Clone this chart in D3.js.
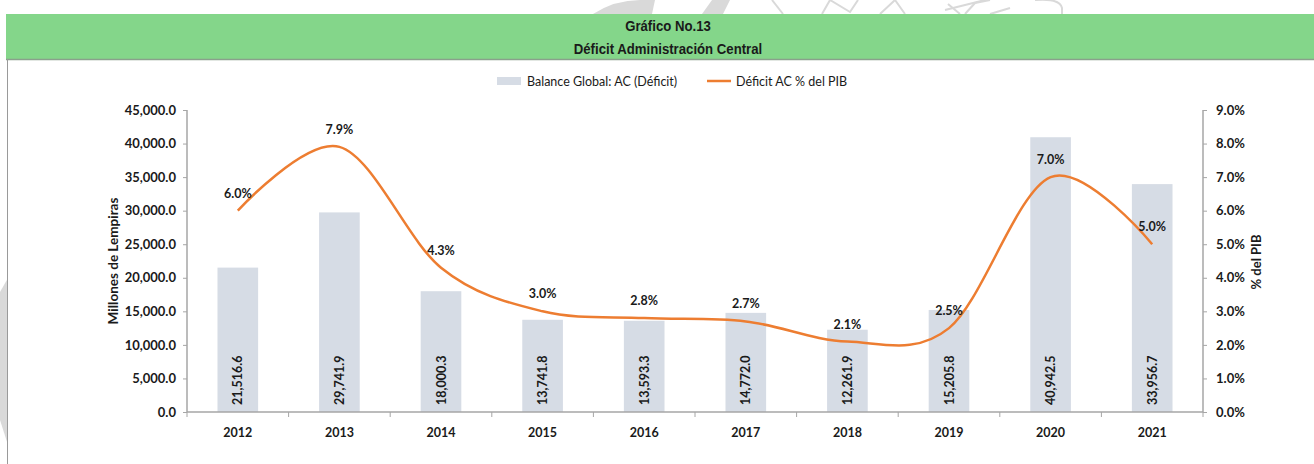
<!DOCTYPE html>
<html>
<head>
<meta charset="utf-8">
<script src="https://cdn.jsdelivr.net/npm/d3@7"></script>
<style>
  body { margin: 0; background: #fff; }
  svg text { font-family: Lato, "Open Sans", sans-serif; fill: #1a1a1a; }
  .narrow { font-family: "Liberation Sans Narrow", "Arial Narrow", "Liberation Sans", sans-serif !important; }
</style>
</head>
<body>
<svg id="chart" width="1314" height="464"></svg>
<script>
// data
var years = ["2012", "2013", "2014", "2015", "2016", "2017", "2018", "2019", "2020", "2021"];
var balance = [21516.6, 29741.9, 18000.3, 13741.8, 13593.3, 14772.0, 12261.9, 15205.8, 40942.5, 33956.7];
var deficitPIB = [0.060, 0.079, 0.043, 0.030, 0.028, 0.027, 0.021, 0.025, 0.070, 0.050];
var leftTicks = [0, 5000, 10000, 15000, 20000, 25000, 30000, 35000, 40000, 45000];
var rightTicks = [0, 0.01, 0.02, 0.03, 0.04, 0.05, 0.06, 0.07, 0.08, 0.09];

var svg = d3.select("#chart");

// watermark shapes (light gray)
var wm = svg.append("g").attr("fill", "#d9d9d9");
wm.append("path").attr("d", "M593,14 Q615,0 640,0 L655,0 L652,14 Z");
wm.append("path").attr("d", "M702,14 L712,0 L730,0 L723,14 Z");
wm.append("path").attr("d", "M0,292 L8,278 L8,445 L0,420 Z");
var wmLine = svg.append("g").attr("fill", "none").attr("stroke", "#d9d9d9").attr("stroke-width", 2);
wmLine.append("path").attr("d", "M772,0 L783,14");
wmLine.append("path").attr("d", "M822,14 L830,0 L850,12 L858,0");
wmLine.append("path").attr("d", "M880,14 L895,0 L905,14");
wmLine.append("path").attr("d", "M945,10 L985,0 M948,4 L960,14 M990,14 L1010,8");
wmLine.append("path").attr("d", "M965,14 L975,3 L990,0");
wmLine.append("path").attr("d", "M1035,0 Q1060,-2 1062,8 L1062,14");

// header band
svg.append("rect").attr("x", 6).attr("y", 14).attr("width", 1308).attr("height", 45)
  .attr("fill", "#84d68a");
svg.append("line").attr("x1", 6).attr("x2", 1314).attr("y1", 59.5).attr("y2", 59.5)
  .attr("stroke", "#8aa08c").attr("stroke-width", 1.5);
svg.append("line").attr("x1", 7.5).attr("x2", 7.5).attr("y1", 59).attr("y2", 464)
  .attr("stroke", "#9a9a9a").attr("stroke-width", 1);

svg.append("text").attr("class", "narrow")
  .attr("transform", "translate(668,31) scale(0.88,1)")
  .attr("text-anchor", "middle").style("font-size", "15px").style("font-weight", "bold")
  .text("Gráfico No.13");
svg.append("text").attr("class", "narrow")
  .attr("transform", "translate(668,54) scale(0.88,1)")
  .attr("text-anchor", "middle").style("font-size", "15px").style("font-weight", "bold")
  .text("Déficit Administración Central");

// scales
var x = d3.scaleBand().domain(years).range([187, 1203]).padding(0);
var yL = d3.scaleLinear().domain([0, 45000]).range([412, 110]);
var yR = d3.scaleLinear().domain([0, 0.09]).range([412, 110]);

var barW = x.bandwidth() * 0.4;

// bars
svg.append("g").selectAll("rect")
  .data(balance)
  .enter()
  .append("rect")
  .attr("x", function(d, i) { return x(years[i]) + (x.bandwidth() - barW) / 2; })
  .attr("y", function(d) { return yL(d); })
  .attr("width", barW)
  .attr("height", function(d) { return yL(0) - yL(d); })
  .attr("fill", "#d6dce5");

// bar labels
svg.append("g").selectAll("text")
  .data(balance)
  .enter()
  .append("text")
  .attr("transform", function(d, i) {
    return "translate(" + (x(years[i]) + x.bandwidth() / 2 + 4.5) + ",405) rotate(-90)";
  })
  .style("font-size", "12.5px").style("font-weight", "bold")
  .text(function(d) { return d3.format(",.1f")(d); });

// axes
var axisColor = "#a6a6a6";
var gL = svg.append("g").attr("transform", "translate(187,0)")
  .call(d3.axisLeft(yL).tickValues(leftTicks).tickSize(4).tickPadding(7).tickFormat(d3.format(",.1f")));
var gR = svg.append("g").attr("transform", "translate(1203,0)")
  .call(d3.axisRight(yR).tickValues(rightTicks).tickSize(4).tickPadding(9).tickFormat(d3.format(".1%")));
var gX = svg.append("g").attr("transform", "translate(0,412)")
  .call(d3.axisBottom(x).tickSize(0).tickPadding(16));

[gL, gR, gX].forEach(function(g) {
  g.selectAll("path.domain").attr("stroke", axisColor).attr("stroke-width", 1.5);
  g.selectAll("line").attr("stroke", axisColor);
  g.selectAll("text").style("font-size", "13px").style("font-weight", "bold")
    .style("font-family", "Lato, sans-serif").attr("fill", "#1a1a1a");
});
gX.selectAll("text").style("font-size", "12.5px");
gL.select("path.domain").attr("d", "M0,412V110");
gR.select("path.domain").attr("d", "M0,412V110");
gX.select("path.domain").attr("d", "M187,0H1203");

// x tick marks on band boundaries
svg.append("g").selectAll("line")
  .data(years.concat(["end"]))
  .enter()
  .append("line")
  .attr("x1", function(d, i) { return 187 + i * x.bandwidth(); })
  .attr("x2", function(d, i) { return 187 + i * x.bandwidth(); })
  .attr("y1", 412).attr("y2", 417)
  .attr("stroke", axisColor);

// line
var line = d3.line()
  .x(function(d, i) { return x(years[i]) + x.bandwidth() / 2; })
  .y(function(d) { return yR(d); })
  .curve(d3.curveCatmullRom.alpha(0));

svg.append("path")
  .datum(deficitPIB)
  .attr("d", line)
  .attr("fill", "none")
  .attr("stroke", "#ed7d31")
  .attr("stroke-width", 2.5);

svg.append("g").selectAll("text")
  .data(deficitPIB)
  .enter()
  .append("text")
  .attr("x", function(d, i) { return x(years[i]) + x.bandwidth() / 2; })
  .attr("y", function(d) { return yR(d) - 13; })
  .attr("text-anchor", "middle")
  .style("font-size", "12.5px").style("font-weight", "bold")
  .text(function(d) { return d3.format(".1%")(d); });

// axis titles
svg.append("text")
  .attr("transform", "translate(118,261) rotate(-90)")
  .attr("text-anchor", "middle")
  .style("font-size", "13.5px").style("font-weight", "bold")
  .text("Millones de Lempiras");
svg.append("text")
  .attr("transform", "translate(1261,262) rotate(-90)")
  .attr("text-anchor", "middle")
  .style("font-size", "13px").style("font-weight", "bold")
  .text("% del PIB");

// legend
var lg = svg.append("g");
lg.append("rect").attr("x", 497).attr("y", 77).attr("width", 24).attr("height", 8).attr("fill", "#d6dce5");
lg.append("text").attr("x", 527).attr("y", 85.5).style("font-size", "12.5px").text("Balance Global: AC (Déficit)");
lg.append("line").attr("x1", 707).attr("x2", 731).attr("y1", 81).attr("y2", 81)
  .attr("stroke", "#ed7d31").attr("stroke-width", 2.5);
lg.append("text").attr("x", 736).attr("y", 85.5).style("font-size", "12.5px").text("Déficit AC % del PIB");
</script>
</body>
</html>
